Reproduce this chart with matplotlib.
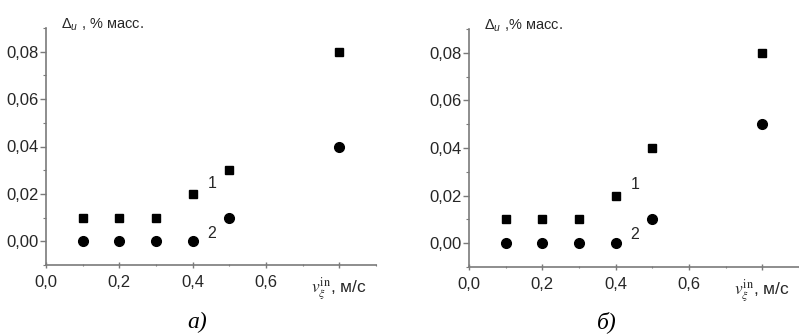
"""Two-panel scatter: mass loss vs. inlet gas velocity, cases a) and b)."""

import matplotlib

matplotlib.use("Agg")
import matplotlib.pyplot as plt
from matplotlib.ticker import FixedLocator, MultipleLocator

plt.rcParams["font.family"] = ["Liberation Sans", "DejaVu Sans"]
plt.rcParams["mathtext.fontset"] = "custom"
plt.rcParams["mathtext.rm"] = "Liberation Sans"
plt.rcParams["mathtext.it"] = "Liberation Sans:italic"

# inlet velocity, m/s
velocity = [0.1, 0.2, 0.3, 0.4, 0.5, 0.8]

# panel a)
a_curve1 = [0.01, 0.01, 0.01, 0.02, 0.03, 0.08]
a_curve2 = [0.00, 0.00, 0.00, 0.00, 0.01, 0.04]

# panel b)
b_curve1 = [0.01, 0.01, 0.01, 0.02, 0.04, 0.08]
b_curve2 = [0.00, 0.00, 0.00, 0.00, 0.01, 0.05]

x_ticks = [0.0, 0.2, 0.4, 0.6, 0.8]
x_tick_labels = ["0,0", "0,2", "0,4", "0,6", ""]
y_ticks = [0.00, 0.02, 0.04, 0.06, 0.08]
y_tick_labels = ["0,00", "0,02", "0,04", "0,06", "0,08"]

W, H = 799, 334
AXIS_GRAY = "#7a7a7a"
TEXT = "#262626"

fig = plt.figure(figsize=(W / 100, H / 100), dpi=100)


def px_axes(left, top, right, bottom):
    return fig.add_axes([left / W, 1 - bottom / H, (right - left) / W, (bottom - top) / H])


def draw_panel(ax, curve1, curve2, ylabel, caption, caption_xy):
    ax.plot(velocity, curve1, linestyle="none", marker="s", markersize=6.3, color="black")
    ax.plot(velocity, curve2, linestyle="none", marker="o", markersize=7.0, color="black")

    ax.set_xlim(0.0, 0.9)
    ax.set_ylim(-0.01, 0.09)
    ax.xaxis.set_major_locator(FixedLocator(x_ticks))
    ax.set_xticklabels(x_tick_labels)
    ax.xaxis.set_minor_locator(MultipleLocator(0.1))
    ax.yaxis.set_major_locator(FixedLocator(y_ticks))
    ax.set_yticklabels(y_tick_labels)
    ax.yaxis.set_minor_locator(MultipleLocator(0.01))

    for side in ("top", "right"):
        ax.spines[side].set_visible(False)
    for side in ("left", "bottom"):
        ax.spines[side].set_color(AXIS_GRAY)
        ax.spines[side].set_linewidth(1.2)

    ax.tick_params(axis="y", which="major", direction="out", length=4, width=1,
                   color=AXIS_GRAY, labelsize=12, labelcolor=TEXT, pad=1)
    ax.tick_params(axis="y", which="minor", direction="out", length=2, width=0.8,
                   color=AXIS_GRAY)
    ax.tick_params(axis="x", which="major", direction="inout", length=4, width=1,
                   color=AXIS_GRAY, labelsize=12, labelcolor=TEXT, pad=5)
    ax.tick_params(axis="x", which="minor", direction="inout", length=2, width=0.8,
                   color=AXIS_GRAY)

    ax.text(0.452, 0.0245, "1", fontsize=11.5, color=TEXT, ha="center", va="center")
    ax.text(0.452, 0.0035, "2", fontsize=11.5, color=TEXT, ha="center", va="center")

    # axis titles sit inside the plot frame like in the original figure
    ax.text(0.045, 1.015, ylabel, transform=ax.transAxes, fontsize=10.5,
            color=TEXT, ha="left", va="center")
    ax.text(0.8, -0.045, r"$v_{\xi}^{\mathrm{in}}$, м/с", transform=ax.get_xaxis_transform(),
            fontsize=12.5, color=TEXT, ha="center", va="top", math_fontfamily="stix")

    fig.text(caption_xy[0] / W, 1 - caption_xy[1] / H, caption, fontsize=17,
             family="Liberation Serif", style="italic", ha="center", va="center",
             color="black")


ax_a = px_axes(46, 28, 376, 265)
draw_panel(ax_a, a_curve1, a_curve2, r"$\Delta_{\mathit{u}}$ , % масс.", "а)", (197, 322))

ax_b = px_axes(469, 29, 799, 267)
draw_panel(ax_b, b_curve1, b_curve2, r"$\Delta_{\mathit{u}}$ ,% масс.", "б)", (607, 322))

fig.savefig("out.png", dpi=100, facecolor="white")
